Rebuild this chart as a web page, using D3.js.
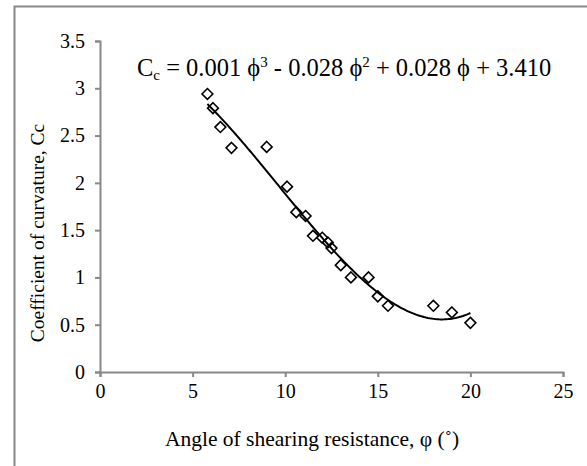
<!DOCTYPE html>
<html><head><meta charset="utf-8">
<script src="https://cdn.jsdelivr.net/npm/d3@7"></script>
<style>body{margin:0;background:#fff;overflow:hidden}svg{display:block}
svg text{font-family:"Liberation Serif","Times New Roman",serif !important;fill:#000}</style>
</head><body>
<script>
const phi = [5.8, 6.1, 6.5, 7.1, 9.0, 10.1, 10.6, 11.1, 11.5, 12.0, 12.3, 12.5, 13.0, 13.55, 14.5, 15.0, 15.55, 18.0, 19.0, 20.0];
const cc  = [2.94, 2.79, 2.59, 2.37, 2.38, 1.96, 1.69, 1.65, 1.44, 1.42, 1.37, 1.31, 1.13, 1.00, 1.00, 0.80, 0.70, 0.70, 0.63, 0.52];
const xTicks = [0, 5, 10, 15, 20, 25];
const yTicks = [0, 0.5, 1, 1.5, 2, 2.5, 3, 3.5];
const xTitle = "Angle of shearing resistance, \u03c6 (\u02da)";
const yTitle = "Coefficient of curvature, Cc";

const W = 587, H = 466;
const svg = d3.select("body").append("svg").attr("width", W).attr("height", H);
svg.append("rect").attr("x",14.5).attr("y",6.5).attr("width",W).attr("height",H)
  .attr("fill","none").attr("stroke","#888").attr("stroke-width",2);

const x = d3.scaleLinear().domain([0,25]).range([100,563]);
const y = d3.scaleLinear().domain([0,3.5]).range([372,41]);

const xAxis = svg.append("g").attr("transform","translate(0,372)")
  .call(d3.axisBottom(x).tickValues(xTicks).tickSize(5).tickPadding(7).tickFormat(d3.format("")));
const yAxis = svg.append("g").attr("transform","translate(100,0)")
  .call(d3.axisLeft(y).tickValues(yTicks).tickSize(5).tickPadding(10).tickFormat(d3.format("")));
[xAxis,yAxis].forEach(g=>{
  g.attr("font-size",20);
  g.selectAll("path,line").attr("stroke","#888").attr("stroke-width",2);
});

function polyfit(xs, ys, deg){
  const n = deg+1;
  const A = Array.from({length:n},()=>Array(n+1).fill(0));
  for(let k=0;k<xs.length;k++){
    for(let i=0;i<n;i++){
      for(let j=0;j<n;j++) A[i][j]+=Math.pow(xs[k],i+j);
      A[i][n]+=ys[k]*Math.pow(xs[k],i);
    }
  }
  for(let i=0;i<n;i++){
    let p=i; for(let r=i+1;r<n;r++) if(Math.abs(A[r][i])>Math.abs(A[p][i])) p=r;
    [A[i],A[p]]=[A[p],A[i]];
    for(let r=0;r<n;r++){ if(r===i) continue; const f=A[r][i]/A[i][i]; for(let c=i;c<=n;c++) A[r][c]-=f*A[i][c]; }
  }
  return A.map((row,i)=>row[n]/row[i]);
}
const coef = polyfit(phi, cc, 3);
const f = v => coef.reduce((s,c,i)=>s+c*Math.pow(v,i),0);
const xs = d3.range(d3.min(phi), d3.max(phi)+0.001, 0.1);
svg.append("path").datum(xs)
  .attr("d", d3.line().x(d=>x(d)).y(d=>y(f(d))))
  .attr("fill","none").attr("stroke","#000").attr("stroke-width",2);

const data = phi.map((p,i)=>({p, c:cc[i]}));
svg.append("g").selectAll("path").data(data).join("path")
  .attr("d", d3.symbol(d3.symbolDiamond2, 75))
  .attr("transform", d=>`translate(${x(d.p)},${y(d.c)})`)
  .attr("fill","none").attr("stroke","#000").attr("stroke-width",1.6);

const eq = svg.append("text").attr("x",137).attr("y",76).attr("font-size",24.5);
eq.append("tspan").text("C");
eq.append("tspan").attr("font-size",15).attr("dy",4).text("c");
eq.append("tspan").attr("dy",-4).text(" = 0.001 \u03d5");
eq.append("tspan").attr("font-size",15).attr("dy",-9).text("3");
eq.append("tspan").attr("dy",9).text(" - 0.028 \u03d5");
eq.append("tspan").attr("font-size",15).attr("dy",-9).text("2");
eq.append("tspan").attr("dy",9).text(" + 0.028 \u03d5 + 3.410");

svg.append("text").attr("x",312).attr("y",446).attr("text-anchor","middle")
  .attr("font-size",21.5).text(xTitle);
svg.append("text").attr("transform","translate(44,233) rotate(-90)").attr("text-anchor","middle")
  .attr("font-size",19.5).text(yTitle);
</script>
</body></html>
